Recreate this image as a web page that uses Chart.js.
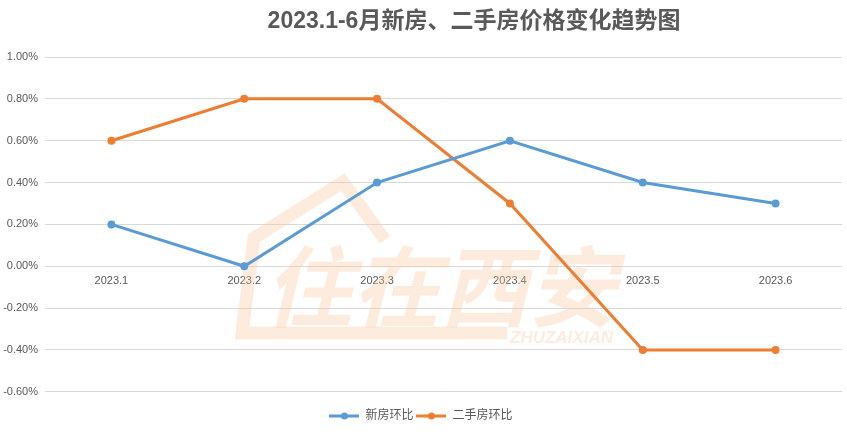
<!DOCTYPE html>
<html>
<head>
<meta charset="utf-8">
<script src="https://cdn.jsdelivr.net/npm/chart.js@4.4.0/dist/chart.umd.min.js"></script>
<style>
  html, body { margin: 0; padding: 0; background: #fff; }
  #wrap { width: 847px; height: 436px; }
</style>
</head>
<body>
<div id="wrap"><canvas id="grafico"></canvas></div>
<script>
// dados
const meses = ["2023.1", "2023.2", "2023.3", "2023.4", "2023.5", "2023.6"];
const novos = [0.2, 0, 0.4, 0.6, 0.4, 0.3];        // 新房环比
const usados = [0.6, 0.8, 0.8, 0.3, -0.4, -0.4];   // 二手房环比
const nomes = ["新房环比", "二手房环比"];
const cores = ["#5B9BD5", "#ED7D31"];
const titulo = "2023.1-6月新房、二手房价格变化趋势图";

const fonte = "'Liberation Sans', 'Noto Sans CJK SC', sans-serif";

// ícone da legenda: linha com ponto no meio
function iconeLegenda(cor) {
  const c = document.createElement("canvas");
  c.width = 30; c.height = 10;
  const g = c.getContext("2d");
  g.strokeStyle = cor;
  g.lineWidth = 3;
  g.beginPath(); g.moveTo(0, 5); g.lineTo(30, 5); g.stroke();
  g.fillStyle = cor;
  g.beginPath(); g.arc(15, 5, 3.5, 0, Math.PI * 2); g.fill();
  return c;
}

// título e marca d'água
const extras = {
  id: "extras",
  beforeDatasetsDraw(chart) {
    const ctx = chart.ctx;
    ctx.save();
    ctx.strokeStyle = "rgba(250, 200, 160, 0.35)";
    ctx.lineWidth = 13;
    ctx.lineJoin = "miter";
    ctx.beginPath();
    ctx.moveTo(507, 333);
    ctx.lineTo(242, 333);
    ctx.lineTo(254, 238);
    ctx.lineTo(343, 182);
    ctx.lineTo(385, 240);
    ctx.stroke();
    ctx.fillStyle = "rgba(250, 200, 160, 0.35)";
    ctx.font = "italic bold 88px 'Noto Sans CJK SC'";
    ctx.textAlign = "left";
    ctx.textBaseline = "middle";
    ctx.fillText("住在西安", 264, 287);
    ctx.font = "italic bold 17px 'Liberation Sans'";
    ctx.fillText("ZHUZAIXIAN", 510, 338);
    ctx.restore();
  },
  afterDraw(chart) {
    const ctx = chart.ctx;
    ctx.save();
    ctx.fillStyle = "#595959";
    ctx.font = "bold 23px 'Liberation Sans', 'Noto Sans CJK SC'";
    ctx.textAlign = "center";
    ctx.textBaseline = "middle";
    ctx.fillText(titulo, 474, 22);
    ctx.restore();
  }
};

new Chart(document.getElementById("grafico"), {
  type: "line",
  data: {
    labels: meses,
    datasets: [
      {
        label: nomes[0],
        data: novos,
        borderColor: cores[0],
        backgroundColor: cores[0],
        borderWidth: 3,
        pointRadius: 4,
        pointBorderWidth: 0,
        pointHoverRadius: 4,
        tension: 0
      },
      {
        label: nomes[1],
        data: usados,
        borderColor: cores[1],
        backgroundColor: cores[1],
        borderWidth: 3,
        pointRadius: 4,
        pointBorderWidth: 0,
        pointHoverRadius: 4,
        tension: 0
      }
    ]
  },
  options: {
    responsive: true,
    maintainAspectRatio: false,
    animation: false,
    layout: { padding: { top: 57, right: 5, left: 0, bottom: 4 } },
    plugins: {
      title: { display: false },
      tooltip: { enabled: false },
      legend: {
        position: "bottom",
        // título vazio só para empurrar a legenda para baixo
        title: { display: true, text: " ", font: { size: 1 }, padding: { top: 0, bottom: 14 } },
        labels: {
          usePointStyle: true,
          pointStyleWidth: 30,
          color: "#595959",
          font: { family: fonte, size: 12 },
          padding: 3,
          generateLabels(chart) {
            return chart.data.datasets.map((ds, i) => ({
              text: ds.label,
              fontColor: "#595959",
              pointStyle: iconeLegenda(ds.borderColor),
              strokeStyle: "transparent",
              fillStyle: "transparent",
              lineWidth: 0,
              datasetIndex: i
            }));
          }
        }
      }
    },
    scales: {
      x: {
        position: { y: 0 },
        offset: true,
        grid: { display: false, drawTicks: false },
        border: { display: false },
        ticks: {
          color: "#595959",
          font: { family: fonte, size: 11 },
          padding: 8,
          maxRotation: 0
        }
      },
      y: {
        min: -0.6,
        max: 1.0,
        grid: { color: "#d9d9d9", drawTicks: false },
        border: { display: false },
        afterFit(scale) { scale.width = 45; },
        ticks: {
          stepSize: 0.2,
          color: "#595959",
          font: { family: fonte, size: 11 },
          padding: 7,
          callback: v => v.toFixed(2) + "%"
        }
      }
    }
  },
  plugins: [extras]
});
</script>
</body>
</html>
